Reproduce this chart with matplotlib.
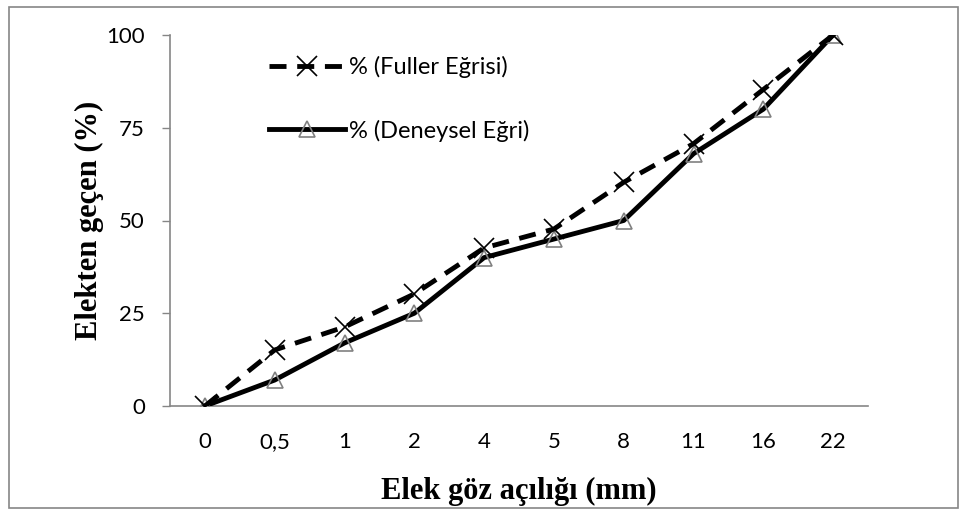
import matplotlib.pyplot as plt
from matplotlib.patches import Rectangle

kategoriler = ['0', '0,5', '1', '2', '4', '5', '8', '11', '16', '22']
fuller = [0, 15.1, 21.3, 30.2, 42.6, 47.7, 60.3, 70.7, 85.3, 100]
deneysel = [0, 7, 17, 25, 40, 45, 50, 68, 80, 100]
y_ticks = [0, 25, 50, 75, 100]

fig = plt.figure(figsize=(9.68, 5.15), dpi=100)
ax = fig.add_axes([170 / 968, 109 / 515, 698 / 968, 371 / 515])

x = list(range(len(kategoriler)))
ax.plot(x, fuller, color='black', linewidth=3.5, linestyle=(0, (3.5, 2.2)),
        marker='x', markersize=14, markeredgewidth=1.2, markeredgecolor='black',
        label='% (Fuller Eğrisi)', zorder=3)
ax.plot(x, deneysel, color='black', linewidth=3.5, marker='^', markersize=12,
        markerfacecolor='none', markeredgecolor='#808080', markeredgewidth=1.2,
        label='% (Deneysel Eğri)', zorder=2)

ax.set_xlim(-0.5, len(kategoriler) - 0.5)
ax.set_ylim(0, 100)
ax.set_xticks(x)
ax.set_xticklabels(kategoriler, fontfamily='Lato', fontsize=16)
ax.set_yticks(y_ticks)
ax.set_yticklabels([str(v) for v in y_ticks], fontfamily='Lato', fontsize=16)
ax.tick_params(axis='x', length=0, pad=19)
ax.tick_params(axis='y', length=6, width=1, color='#868686', pad=12)

for s in ['top', 'right']:
    ax.spines[s].set_visible(False)
for s in ['left', 'bottom']:
    ax.spines[s].set_color('#868686')
    ax.spines[s].set_linewidth(1.2)
ax.spines['bottom'].set_zorder(1)

ax.set_xlabel('Elek göz açılığı (mm)', fontfamily='Liberation Serif',
              fontweight='bold', fontsize=22, labelpad=18)
ax.set_ylabel('Elekten geçen (%)', fontfamily='Liberation Serif',
              fontweight='bold', fontsize=22, labelpad=2)

leg = ax.legend(loc='upper left', bbox_to_anchor=(0.112, 1.0), frameon=False,
                prop={'family': 'Lato', 'size': 17}, handlelength=3.2,
                labelspacing=1.75, handletextpad=0.15)

fig.patches.append(Rectangle((9 / 968, 7 / 515), 949 / 968, 501 / 515,
                             transform=fig.transFigure, fill=False,
                             edgecolor='#868686', linewidth=1.2))

fig.savefig('out.png', dpi=100)
